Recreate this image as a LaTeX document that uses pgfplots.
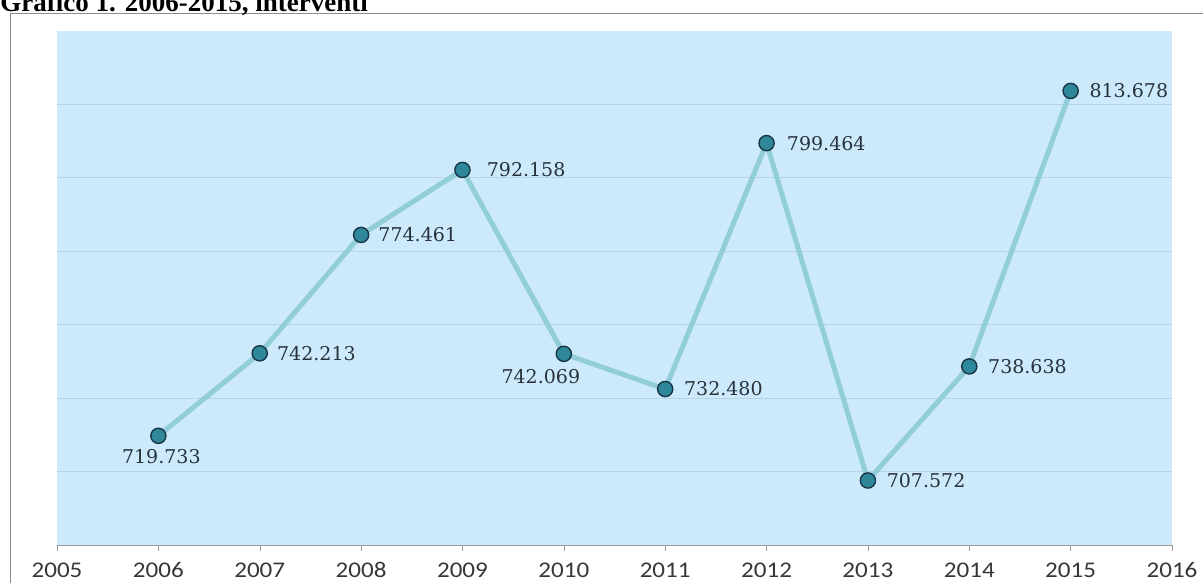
\documentclass[border=0pt]{standalone}
\usepackage{pgfplots}
\pgfplotsset{compat=1.18}
\usepackage{fontspec}
\setmainfont{Liberation Serif}
\newfontfamily\tickfont[FakeStretch=1.12]{Carlito}
\newfontfamily\labfont{DejaVu Serif}
\definecolor{bgblue}{RGB}{204,234,251}
\definecolor{gridc}{RGB}{182,212,230}
\definecolor{linec}{RGB}{146,206,218}
\definecolor{markc}{RGB}{46,136,154}
\definecolor{markd}{RGB}{25,55,70}
\definecolor{txt}{RGB}{40,50,60}
\definecolor{ticktxt}{RGB}{55,55,55}

\begin{document}
\begin{tikzpicture}
\useasboundingbox (-28.5pt,-19pt) rectangle (573pt,272.5pt);
\draw[gray!90, line width=0.75pt] (-23.25pt,-19pt) -- (-23.25pt,265.75pt) -- (573pt,265.75pt);
\node[anchor=base west, inner sep=0pt, font=\fontsize{13.5}{16}\selectfont\bfseries] at (-28.5pt,266.5pt) {Grafico 1. 2006-2015, interventi};
\begin{axis}[
  at={(0pt,0pt)}, anchor=south west,
  scale only axis, width=557.5pt, height=257pt,
  xmin=2005, xmax=2016, ymin=690, ymax=830,
  xtick={2005,2006,...,2016},
  ytick={710,730,...,810}, yticklabels={},
  ymajorgrids, grid style={gridc, line width=0.5pt},
  axis background/.style={fill=bgblue},
  axis x line*=bottom, axis y line*=left,
  y axis line style={draw=none}, ytick style={draw=none},
  x axis line style={gray!80, -},
  xtick style={gray!80},
  xtick align=outside, major tick length=3pt,
  xticklabel style={font=\tickfont\fontsize{11.2}{13}\selectfont, text=ticktxt, anchor=north, inner sep=0pt, text height=7.1pt, text depth=0pt, yshift=-6pt},
  /pgf/number format/1000 sep={},
  /pgf/number format/assume math mode=true,
  clip=false,
  lbl/.style={draw=none, mark=none, point meta=explicit symbolic, nodes near coords,
    every node near coord/.append style={inner sep=0pt, font=\labfont\fontsize{9.5}{11}\selectfont, text=txt, #1}},
]
\addplot[linec, line width=2.5pt, mark=*, mark size=3.8pt,
  mark options={fill=markc, draw=markd, line width=0.7pt}]
  coordinates {(2006,719.733) (2007,742.213) (2008,774.461) (2009,792.158) (2010,742.069)
               (2011,732.480) (2012,799.464) (2013,707.572) (2014,738.638) (2015,813.678)};
% labels to the right
\addplot[lbl={anchor=west, xshift=8.5pt}] coordinates {(2007,742.213) [742.213] (2008,774.461) [774.461]};
\addplot[lbl={anchor=west, xshift=9.25pt}] coordinates {(2011,732.480) [732.480] (2013,707.572) [707.572] (2014,738.638) [738.638] (2015,813.678) [813.678]};
\addplot[lbl={anchor=west, xshift=10pt}] coordinates {(2012,799.464) [799.464]};
\addplot[lbl={anchor=west, xshift=12pt}] coordinates {(2009,792.158) [792.158]};
% labels below
\addplot[lbl={anchor=north, xshift=1.5pt, yshift=-6.5pt}] coordinates {(2006,719.733) [719.733]};
\addplot[lbl={anchor=north, xshift=-11.5pt, yshift=-7.5pt}] coordinates {(2010,742.069) [742.069]};
\end{axis}
\end{tikzpicture}
\end{document}
